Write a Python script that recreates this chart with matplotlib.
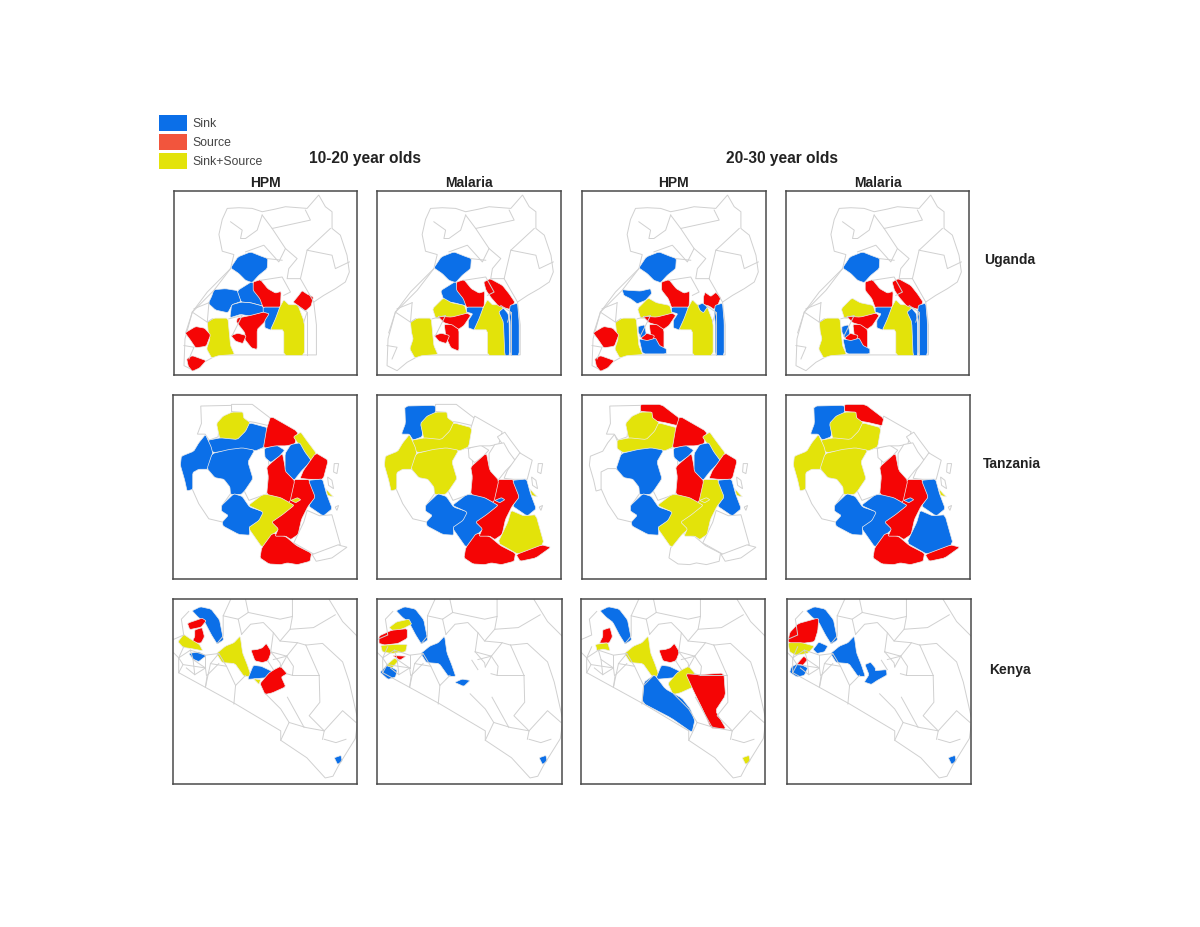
import matplotlib
matplotlib.use('Agg')
import matplotlib.pyplot as plt
from matplotlib.patches import Patch, Polygon

plt.rcParams['font.family'] = ['Liberation Sans', 'DejaVu Sans']

BLUE = '#0b6fe8'
RED = '#f50505'
YELLOW = '#e3e30a'
GREY = '#d0d0d0'
LEGEND_RED = '#f2553d'

# map shapes, units are 1/550 of a panel, y going down
UG_OUTLINE = [(435,12),(455,47),(475,62),(475,112),(500,132),(520,192),(527,242),(515,272),(485,292),(450,312),(420,332),(428,400),(428,490),(130,490),(90,512),(60,537),(30,522),(33,442),(55,362),(100,302),(170,232),(180,190),(145,180),(135,130),(145,85),(160,52),(195,50),(235,52),(265,62),(300,55),(335,47),(400,52)]
UG_LINES = [
    [(170,92),(205,117),(200,142),(215,142),(250,117),(265,72)],
    [(265,72),(295,112),(410,87),(395,57)],
    [(295,112),(335,172),(315,212),(270,162),(215,182)],
    [(335,172),(370,202),(345,232),(340,262),(380,262),(400,177),(470,112)],
    [(400,177),(475,192),(485,232),(527,212)],
    [(380,262),(420,332)],
    [(280,202),(325,207)],
    [(330,312),(350,302),(325,257),(260,267)],
    [(170,232),(120,297),(55,362),(100,392),(115,382)],
    [(55,362),(35,424)],
    [(105,334),(60,352)],
    [(30,462),(60,467),(45,502)],
    [(105,334),(100,392)],
    [(165,382),(205,372),(175,432)],
    [(390,392),(400,362),(370,342)],
    [(400,362),(400,490)],
]
UG_SHAPES = {
    'blob': [(170,230),(192,197),(230,182),(260,194),(282,202),(280,232),(255,252),(235,274),(215,267),(195,247)],
    'west': [(120,295),(155,292),(192,298),(202,330),(175,340),(162,364),(125,356),(103,336),(113,315)],
    'masindi': [(120,295),(140,297),(175,299),(205,292),(208,307),(190,327),(165,337),(145,322),(125,312)],
    'mid': [(190,298),(235,270),(250,297),(267,317),(267,344),(230,334),(202,332)],
    'lower': [(173,340),(202,332),(230,334),(267,344),(272,362),(230,374),(200,369),(168,379)],
    'central': [(166,352),(198,320),(223,334),(262,342),(270,367),(223,379),(176,382)],
    'river': [(190,380),(230,372),(277,360),(290,367),(272,392),(250,414),(250,474),(233,469),(213,444),(213,424),(188,392)],
    'river_up': [(181,374),(223,377),(270,365),(280,372),(260,402),(243,414),(218,399),(201,394)],
    'river_low': [(201,399),(223,399),(245,414),(245,479),(221,469),(206,437)],
    'small': [(171,432),(192,425),(217,432),(207,456),(185,449)],
    'mbarara': [(100,392),(120,380),(162,380),(167,432),(170,462),(182,489),(135,492),(113,499),(98,472),(108,442),(103,422)],
    'kasese': [(33,424),(65,405),(92,410),(110,430),(97,464),(65,469),(48,444)],
    'kisoro': [(38,502),(55,492),(97,507),(77,529),(55,539),(43,524)],
    'kiboga': [(238,272),(260,265),(282,292),(305,305),(322,300),(320,349),(268,349),(258,322),(238,297)],
    'mukono': [(268,347),(320,347),(307,384),(292,416),(273,409),(273,387),(286,367),(268,362)],
    'jinja': [(318,347),(330,325),(345,340),(372,340),(392,392),(392,492),(330,492),(330,415),(290,415),(305,382)],
    'east1': [(358,332),(373,314),(385,298),(400,308),(419,317),(412,344),(395,359),(375,344)],
    'east2': [(319,272),(338,262),(375,282),(395,307),(412,332),(398,354),(363,344),(341,319),(326,297)],
    'east3': [(363,317),(368,303),(385,315),(400,303),(415,319),(407,339),(395,354),(380,344),(363,339)],
    'east_small': [(346,342),(360,335),(375,347),(363,364),(353,357)],
    'strip_l': [(364,362),(378,350),(392,367),(395,392),(396,492),(382,492),(378,392)],
    'strip_r': [(398,342),(420,335),(425,392),(425,492),(398,492),(398,392),(395,367)],
    'bottom': [(171,442),(195,447),(220,440),(232,462),(252,472),(252,487),(181,487)],
    'nub': [(168,405),(187,400),(192,427),(177,439),(168,422)],
}

TZ_SHAPES = {
    'kagera': [(83,33),(175,31),(175,55),(138,85),(135,125),(108,135),(96,117),(73,117),(85,85)],
    'mara': [(175,28),(237,28),(292,70),(287,92),(245,82),(213,77),(206,52),(175,49)],
    'mwanza': [(130,85),(150,63),(177,51),(209,51),(211,68),(231,83),(219,110),(192,137),(140,132)],
    'shinyanga': [(105,135),(142,128),(192,133),(217,108),(229,83),(284,98),(274,155),(247,167),(207,162),(167,167),(122,172),(105,160)],
    'kigoma': [(97,118),(114,155),(119,175),(104,222),(77,222),(59,232),(59,282),(42,287),(35,255),(22,210),(25,183),(62,168),(77,143)],
    'tabora': [(117,175),(167,163),(207,158),(244,165),(224,200),(239,250),(214,287),(204,297),(172,297),(170,275),(152,252),(125,247),(102,220)],
    'katavi': [(57,230),(77,220),(102,220),(127,245),(152,250),(172,275),(172,295),(147,330),(147,345),(167,360),(149,380),(107,370),(77,325),(57,280)],
    'singida': [(242,165),(282,155),(287,215),(282,295),(227,315),(212,285),(237,250),(222,200)],
    'rukwa': [(145,330),(182,295),(207,303),(229,335),(274,350),(259,377),(229,397),(229,419),(197,417),(150,392),(147,380),(165,360),(145,347)],
    'iringa': [(225,330),(267,298),(307,298),(347,318),(364,330),(329,362),(299,382),(319,400),(299,417),(267,457),(225,397),(257,375),(270,350)],
    'mbeya': [(265,457),(297,413),(337,423),(369,450),(414,473),(410,497),(372,507),(342,502),(322,507),(287,505),(260,487)],
    'dodoma': [(295,380),(327,358),(362,330),(345,320),(360,253),(409,253),(429,305),(404,332),(384,372),(374,417),(352,432),(337,422),(305,422),(315,400)],
    'manyoni': [(280,215),(327,173),(337,225),(364,255),(349,322),(322,307),(280,297),(285,245)],
    'arusha': [(273,160),(307,148),(334,165),(319,182),(292,202),(275,187)],
    'mara2': [(292,63),(374,110),(364,147),(337,152),(307,152),(270,159),(280,100)],
    'strip': [(360,125),(382,111),(399,135),(429,175),(414,197),(392,172),(375,147)],
    'kondoa': [(335,175),(352,148),(379,143),(394,170),(414,197),(384,227),(362,255),(335,227)],
    'tanga': [(390,225),(427,173),(464,195),(449,252),(407,252),(380,249)],
    'coast': [(405,255),(447,251),(459,295),(476,340),(449,362),(405,332),(425,305)],
    'coast_small': [(457,280),(470,295),(480,305),(462,300)],
    'southeast': [(401,345),(438,361),(475,358),(500,447),(423,477),(361,442),(391,380)],
    'mtwara': [(416,477),(493,448),(520,455),(475,487),(428,497)],
    'lake': [(352,315),(372,307),(382,313),(367,322)],
    'isle1': [(482,205),(495,205),(490,235),(480,230)],
    'isle2': [(462,245),(475,255),(480,280),(465,270)],
    'isle3': [(485,335),(495,330),(490,345)],
}

KE_LINES = [
    [(17,219),(187,312),(322,392),(322,420),(400,472),(455,532),(478,527),(495,495),(545,415),(552,365)],
    [(467,2),(507,67),(552,112)],
    [(172,2),(150,50),(195,60),(225,40),(217,2)],
    [(225,40),(320,60),(357,52),(357,2)],
    [(357,52),(350,90),(420,85),(485,47)],
    [(350,90),(320,125),(372,130),(397,137)],
    [(397,137),(447,132),(507,187),(527,247),(552,357)],
    [(397,137),(437,227),(439,307),(407,347),(452,392)],
    [(357,227),(437,227)],
    [(182,312),(187,257),(217,227)],
    [(97,262),(102,227),(137,192)],
    [(17,175),(52,152),(97,167),(137,162),(112,192),(97,262)],
    [(17,219),(17,175),(32,142)],
    [(2,120),(32,107),(25,60),(47,37)],
    [(60,180),(65,225)],
    [(30,195),(97,205)],
    [(322,420),(347,367),(397,382),(452,392),(447,417)],
    [(342,292),(392,382)],
    [(277,282),(322,327),(347,367)],
    [(452,392),(507,332),(547,367)],
    [(452,417),(487,427),(517,417)],
    [(205,105),(232,75),(270,70),(300,100),(320,125)],
    [(300,100),(292,157)],
    [(292,157),(340,170),(372,130)],
    [(340,170),(322,202)],
    [(339,222),(357,227)],
    [(17,175),(30,195),(17,219)],
    [(52,152),(60,180),(97,205),(100,227)],
    [(97,167),(97,205)],
    [(137,162),(160,200),(187,257)],
    [(112,192),(160,200)],
    [(40,205),(65,225),(97,205)],
    [(2,160),(17,175)],
    [(292,157),(320,190),(322,202)],
    [(340,170),(360,200),(357,227)],
    [(300,180),(340,170)],
    [(282,182),(300,210)],
    [(150,50),(150,110),(132,132)],
    [(195,60),(205,105)],
]
KE_SHAPES = {
    'turkana': [(57,35),(82,23),(114,30),(139,62),(146,97),(151,122),(132,134),(115,107),(95,69),(75,54)],
    'red1': [(43,72),(87,57),(99,65),(84,84),(50,91)],
    'red2': [(65,92),(87,85),(94,112),(84,131),(55,131),(65,112)],
    'yellow1': [(15,127),(32,105),(54,120),(79,135),(89,154),(52,147),(30,144)],
    'south_w': [(47,162),(77,157),(99,169),(77,186),(60,179)],
    'rift': [(130,162),(157,140),(182,130),(201,110),(208,160),(222,195),(234,230),(212,230),(185,192),(147,189)],
    'horse': [(233,152),(252,150),(267,145),(279,132),(294,157),(284,184),(267,189),(245,184)],
    'center': [(223,239),(240,197),(264,200),(304,219),(279,234),(247,237)],
    'small_y': [(240,237),(262,240),(257,254)],
    'lower': [(260,251),(287,220),(302,210),(322,200),(341,222),(324,232),(337,261),(297,279),(275,284)],
    'mombasa': [(482,472),(502,465),(506,482),(492,492)],
    'top_y': [(36,85),(58,68),(95,60),(103,75),(80,87),(51,97)],
    'west_r': [(6,110),(43,93),(90,88),(90,117),(63,132),(23,137),(6,132)],
    'west_y': [(11,138),(58,135),(90,135),(85,157),(43,162),(16,157)],
    'sliver_r': [(46,168),(87,170),(68,182)],
    'sliver_y': [(26,198),(53,175),(63,185),(43,207)],
    'sw_b': [(9,218),(28,198),(43,203),(60,212),(55,232),(33,239)],
    'dot_b': [(231,248),(253,238),(277,242),(258,260)],
    'west_y3': [(43,135),(80,130),(87,154),(65,149),(48,154)],
    'big_b': [(183,309),(188,247),(220,225),(252,267),(302,295),(327,327),(340,362),(332,397),(270,354)],
    'big_r': [(313,222),(355,225),(427,220),(432,287),(402,332),(434,387),(388,384),(363,327),(338,277)],
    'large_r': [(8,100),(33,73),(95,56),(92,95),(82,127),(45,132),(20,137),(3,127)],
    'west_y4': [(3,130),(45,130),(82,140),(62,162),(25,167),(8,157)],
    'mid_b4': [(78,150),(95,128),(122,140),(112,157),(90,162)],
    'sliver_r4': [(28,195),(50,170),(62,180),(45,200)],
    'sw_b4': [(13,202),(30,193),(45,196),(62,205),(52,227),(30,232),(8,218)],
    'cross_b': [(233,195),(250,188),(264,205),(264,213),(297,210),(299,226),(270,242),(252,254),(231,247),(245,225)],
}

# which district is what, per panel (HPM / Malaria for both age groups)
UG_STATUS = [
    {'sink': ['blob','west','mid','lower','mukono'], 'source': ['kiboga','river','small','kasese','kisoro','east1'], 'both': ['mbarara','jinja']},
    {'sink': ['blob','mid','mukono','strip_l','strip_r'], 'source': ['kiboga','river_up','river_low','small','east2'], 'both': ['central','mbarara','jinja']},
    {'sink': ['blob','masindi','mukono','east_small','strip_r','bottom','nub'], 'source': ['kiboga','river_up','river_low','small','kasese','kisoro','east3'], 'both': ['central','mbarara','jinja']},
    {'sink': ['blob','mukono','strip_l','strip_r','bottom','nub'], 'source': ['kiboga','river_up','river_low','small','east2'], 'both': ['central','mbarara','jinja']},
]
TZ_STATUS = [
    {'sink': ['shinyanga','kigoma','tabora','rukwa','arusha','kondoa','coast'], 'source': ['dodoma','manyoni','mara2','tanga','mbeya'], 'both': ['mwanza','iringa','strip','coast_small','lake']},
    {'sink': ['kagera','rukwa','iringa','coast','lake'], 'source': ['dodoma','manyoni','mbeya','mtwara'], 'both': ['mwanza','shinyanga','kigoma','tabora','southeast','coast_small']},
    {'sink': ['tabora','rukwa','arusha','kondoa','coast'], 'source': ['mara','mara2','manyoni','tanga'], 'both': ['mwanza','shinyanga','iringa','dodoma','strip','coast_small','lake']},
    {'sink': ['kagera','rukwa','iringa','coast','southeast','lake'], 'source': ['mara','dodoma','manyoni','mbeya','mtwara'], 'both': ['mwanza','shinyanga','kigoma','tabora','coast_small']},
]
KE_STATUS = [
    {'sink': ['turkana','south_w','center','mombasa'], 'source': ['red1','red2','horse','lower'], 'both': ['yellow1','rift','small_y']},
    {'sink': ['turkana','rift','sw_b','dot_b','mombasa'], 'source': ['west_r','sliver_r'], 'both': ['top_y','west_y','sliver_y']},
    {'sink': ['turkana','center','big_b'], 'source': ['red2','horse','big_r'], 'both': ['west_y3','rift','lower','mombasa']},
    {'sink': ['turkana','mid_b4','rift','cross_b','sw_b4','mombasa'], 'source': ['large_r','sliver_r4'], 'both': ['west_y4']},
]
STATUS_COLOURS = {'sink': BLUE, 'source': RED, 'both': YELLOW}

LEGEND_LABELS = ['Sink', 'Source', 'Sink+Source']
AGE_GROUPS = ['10-20 year olds', '20-30 year olds']
METHODS = ['HPM', 'Malaria', 'HPM', 'Malaria']
COUNTRIES = ['Uganda', 'Tanzania', 'Kenya']

W, H = 1200, 927
BOXES = [
    [(174,191,357,375), (377,191,561,375), (582,191,766,375), (786,191,969,375)],
    [(173,395,357,579), (377,395,561,579), (582,395,766,579), (786,395,970,579)],
    [(173,599,357,784), (377,599,562,784), (581,599,765,784), (787,599,971,784)],
]

fig = plt.figure(figsize=(W/100, H/100), dpi=100)


def soften(pts, q=0.1):
    # cut the corners once so the districts look less like cut paper
    out = []
    for i, (x, y) in enumerate(pts):
        nx, ny = pts[(i+1) % len(pts)]
        out.append((x + q*(nx-x), y + q*(ny-y)))
        out.append((x + (1-q)*(nx-x), y + (1-q)*(ny-y)))
    return out


def draw_panel(box, shapes, status, lines=None, outline=None):
    x0, y0, x1, y1 = box
    ax = fig.add_axes([x0/W, 1-y1/H, (x1-x0)/W, (y1-y0)/H])
    ax.set_xlim(0, 550)
    ax.set_ylim(550, 0)
    ax.set_xticks([])
    ax.set_yticks([])
    for s in ax.spines.values():
        s.set_color('#4a4a4a')
        s.set_linewidth(1.1)
    if outline:
        ax.add_patch(Polygon(outline, closed=True, fc='white', ec=GREY, lw=0.7))
    for seg in lines or []:
        ax.plot([p[0] for p in seg], [p[1] for p in seg], color=GREY, lw=0.7)
    coloured = {n: k for k, names in status.items() for n in names}
    for name, pts in shapes.items():
        # only tanzania outlines its empty districts, the other two have their own lines
        if name not in coloured and lines is None:
            ax.add_patch(Polygon(pts, closed=True, fc='white', ec=GREY, lw=0.7))
    for name, pts in shapes.items():
        if name in coloured:
            ax.add_patch(Polygon(soften(pts), closed=True, fc=STATUS_COLOURS[coloured[name]], ec='#ececec', lw=0.5))


for c in range(4):
    draw_panel(BOXES[0][c], UG_SHAPES, UG_STATUS[c], UG_LINES, UG_OUTLINE)
    draw_panel(BOXES[1][c], TZ_SHAPES, TZ_STATUS[c])
    draw_panel(BOXES[2][c], KE_SHAPES, KE_STATUS[c], KE_LINES)

# headers
for x, label in zip([365, 782], AGE_GROUPS):
    fig.text(x/W, 1-158/H, label, ha='center', va='center', fontsize=11.2, fontweight='bold', color='#222222')
for x, label in zip([265, 469, 673, 878], METHODS):
    fig.text(x/W, 1-183/H, label, ha='center', va='center', fontsize=10, fontweight='bold', color='#222222')
for x, y, label in zip([1010, 1012, 1010], [260, 464, 670], COUNTRIES):
    fig.text(x/W, 1-y/H, label, ha='center', va='center', fontsize=10, fontweight='bold', color='#222222')

handles = [Patch(fc=BLUE), Patch(fc=LEGEND_RED), Patch(fc=YELLOW)]
fig.legend(handles, LEGEND_LABELS, loc='upper left', bbox_to_anchor=(156.6/W, 1-112.6/H), frameon=False,
           fontsize=8.8, labelcolor='#444444', handlelength=2.3, handleheight=1.6,
           labelspacing=0.28, handletextpad=0.41, borderpad=0.2, borderaxespad=0)

fig.savefig('out.png', dpi=100)
